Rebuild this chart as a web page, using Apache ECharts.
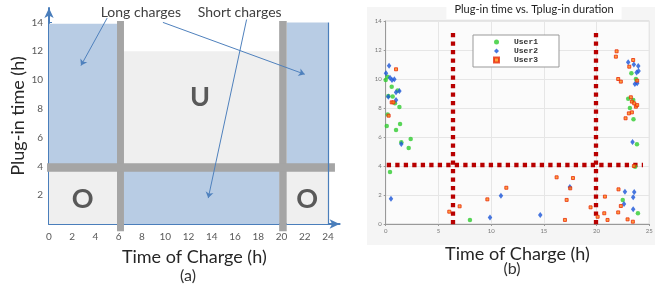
<!DOCTYPE html>
<html><head><meta charset="utf-8">
<script src="https://cdn.jsdelivr.net/npm/echarts@6/dist/echarts.min.js"></script>
<style>html,body{margin:0;padding:0;background:#fff}#c{width:657px;height:287px}</style>
</head><body><div id="c"></div>
<script>
// ---------- Panel (a): zones [x0, x1, y0, y1] ----------
const zonesOver = [[0, 5.85, 0, 4], [20.45, 24, 0, 4]];          // "O"
const zonesUnder = [[6.45, 19.8, 4, 12]];                          // "U"
const zonesLong = [[0, 5.85, 4, 13.9], [20.45, 24, 4, 14]];        // long charges
const zonesShort = [[6.45, 19.8, 0, 4]];                           // short charges
const dividersV = [[5.85, 6.45, -0.5, 14.1], [19.8, 20.45, -0.5, 14.1]];
const dividersH = [[-0.17, 24.6, 3.63, 4.22]];
const edgeLine = [[24, 0], [24, 14]];
const arrowsA = [
  [[5.0, 14.3], [2.75, 11.0]],
  [[9.8, 14.0], [22.0, 10.4]],
  [[17.0, 14.2], [13.7, 1.8]]
];
const textsA = ['Long charges', 'Short charges', 'U', 'O', 'O'];
const textPosA = [[7.9, 14.72], [16.4, 14.72], [13.0, 8.8], [2.9, 1.74], [22.2, 1.74]];

// ---------- Panel (b) data ----------
const user1 = [[0,9.93],[0.16,10.16],[0.57,9.47],[0.25,8.83],[0.66,8.8],[1.14,9.2],[0.88,8.32],[1.3,8.07],
  [0.19,7.56],[0.1,6.76],[1.36,6.9],[0.98,6.48],[1.48,5.63],[2.37,5.86],[2.18,5.24],[0.41,3.59],[7.99,0.28],
  [23.3,10.4],[23.73,10.0],[23.0,8.64],[23.48,8.55],[23.16,8.0],[23.5,7.22],[23.83,5.5],[23.65,3.95],
  [22.48,1.66],[23.92,0.74]];
const user2 = [[0.03,10.39],[0.32,10.92],[0.41,10.09],[0.6,9.93],[0.82,9.98],[0.25,8.78],[0.98,9.08],[1.3,9.17],
  [0.98,8.55],[1.48,5.52],[0.5,1.75],[9.89,0.44],[10.93,1.95],[14.66,0.62],[17.47,2.55],
  [23.0,11.15],[23.54,11.0],[23.95,10.9],[23.98,10.55],[23.8,10.44],[23.63,9.66],[23.85,9.7],[23.41,5.66],
  [22.69,2.23],[23.57,2.21],[22.6,1.38],[23.47,1.84],[23.47,1.01]];
const user3 = [[0.98,10.67],[0.57,8.39],[0.73,8.39],[0.28,7.47],[6.03,0.85],[7.01,1.22],[9.64,1.7],[11.44,2.5],
  [16.21,3.22],[17.16,1.66],[17.0,0.28],[17.5,2.46],[17.76,3.17],[19.43,1.15],[20.1,0.5],[20.79,1.89],
  [20.73,0.74],[21.04,0.28],[22.05,0.8],[22.08,2.39],[22.3,1.24],[22.94,0.32],[23.44,0.16],
  [21.9,11.91],[21.83,11.54],[22.05,10.0],[22.3,9.82],[23.47,11.31],[23.1,10.85],[23.85,9.89],
  [23.25,8.74],[23.35,8.44],[23.57,8.32],[23.73,8.09],[23.85,8.2],[23.06,7.63],[23.35,7.7],[22.75,7.29],[23.54,4.0]];
const thresholdV1 = [[6.4, -0.6], [6.4, 13.45]];
const thresholdV2 = [[19.9, -0.6], [19.9, 13.45]];
const thresholdH = [[0.1, 4.07], [24.4, 4.07]];
const userNames = ['User1', 'User2', 'User3'];

// ---------- build ----------
const kindColor = ['#EFEFEF', '#EFEFEF', '#B8CCE4', '#B8CCE4', '#A5A5A5'];
const zoneData = [];
zonesOver.forEach(z => zoneData.push(z.concat(0)));
zonesUnder.forEach(z => zoneData.push(z.concat(1)));
zonesLong.forEach(z => zoneData.push(z.concat(2)));
zonesShort.forEach(z => zoneData.push(z.concat(3)));
dividersV.concat(dividersH).forEach(z => zoneData.push(z.concat(4)));

const chart = echarts.init(document.getElementById('c'), null, {renderer: 'canvas'});
const FA = 'Lato, "Open Sans", sans-serif';
const redDots = {color: '#B80000', width: 4.3, type: [4.3, 4.2], cap: 'butt', opacity: 1};

chart.setOption({
  animation: false,
  backgroundColor: '#fff',
  title: [
    {text: '(a)', left: 188, top: 276, textAlign: 'center', textVerticalAlign: 'middle', padding: 0,
     textStyle: {fontFamily: FA, fontSize: 16, fontWeight: 'normal', color: '#333'}},
    {text: '(b)', left: 512, top: 269, textAlign: 'center', textVerticalAlign: 'middle', padding: 0,
     textStyle: {fontFamily: FA, fontSize: 16, fontWeight: 'normal', color: '#333'}},
    {text: 'Plug-in time vs. Tplug-in duration', left: 526, top: 0, textAlign: 'center',
     backgroundColor: '#fff', padding: [4, 8, 4, 8],
     textStyle: {fontFamily: FA, fontSize: 11, fontWeight: 'normal', color: '#222'}}
  ],
  graphic: [
    {type: 'rect', z: -10, shape: {x: 367, y: 7, width: 288, height: 238}, style: {fill: '#F5F5F5'}}
  ],
  legend: {
    data: userNames, left: 473, top: 35, orient: 'vertical', itemWidth: 5, itemHeight: 5, itemGap: 1,
    padding: [3, 21, 3, 20], backgroundColor: '#fff', borderColor: '#999', borderWidth: 1, borderRadius: 0,
    textStyle: {fontFamily: '"Liberation Mono", monospace', fontWeight: 'bold', fontSize: 8, color: '#333',
                lineHeight: 8, padding: [0, 0, 0, 10]}
  },
  grid: [
    {left: 49, top: 8, width: 290.6, height: 216, containLabel: false},
    {left: 385.7, top: 21, width: 263.6, height: 203, show: true, backgroundColor: '#FBFBFB', borderColor: '#D0D0D0', borderWidth: 1}
  ],
  xAxis: [
    {gridIndex: 0, type: 'value', min: 0, max: 25, interval: 2,
     axisLine: {lineStyle: {color: '#4A7EBB', width: 2}, symbol: ['none', 'arrow'], symbolSize: [7, 10]},
     axisTick: {inside: true, length: 3, lineStyle: {color: '#4A7EBB'}},
     axisLabel: {showMaxLabel: false, fontFamily: FA, fontSize: 10, color: '#595959', margin: 8},
     splitLine: {show: false},
     name: 'Time of Charge (h)', nameLocation: 'middle', nameGap: 24,
     nameTextStyle: {fontFamily: FA, fontSize: 18, color: '#262626'}},
    {gridIndex: 1, type: 'value', min: 0, max: 25, interval: 5,
     axisLine: {lineStyle: {color: '#999', width: 1}},
     axisTick: {length: 2, lineStyle: {color: '#999'}},
     axisLabel: {fontFamily: FA, fontSize: 6, color: '#777', margin: 4},
     splitLine: {show: true, lineStyle: {color: '#E6E6E6', width: 1}},
     name: 'Time of Charge (h)', nameLocation: 'middle', nameGap: 21,
     nameTextStyle: {fontFamily: FA, fontSize: 18, color: '#262626'}}
  ],
  yAxis: [
    {gridIndex: 0, type: 'value', min: 0, max: 15, interval: 2,
     axisLine: {lineStyle: {color: '#4A7EBB', width: 2}, symbol: ['none', 'arrow'], symbolSize: [7, 10]},
     axisTick: {inside: true, length: 3, lineStyle: {color: '#4A7EBB'}},
     axisLabel: {showMinLabel: false, showMaxLabel: false, fontFamily: FA, fontSize: 10, color: '#595959', margin: 6},
     splitLine: {show: false},
     name: 'Plug-in time (h)', nameLocation: 'middle', nameGap: 20, nameRotate: 90,
     nameTextStyle: {fontFamily: FA, fontSize: 18, color: '#262626'}},
    {gridIndex: 1, type: 'value', min: 0, max: 14, interval: 2,
     axisLine: {lineStyle: {color: '#999', width: 1}},
     axisTick: {length: 2, lineStyle: {color: '#999'}},
     axisLabel: {fontFamily: FA, fontSize: 6, color: '#777', margin: 4},
     splitLine: {show: true, lineStyle: {color: '#E6E6E6', width: 1}}}
  ],
  series: [
    {type: 'custom', xAxisIndex: 0, yAxisIndex: 0, clip: false, z: 1, silent: true,
     data: zoneData,
     renderItem: function (params, api) {
       const p0 = api.coord([api.value(0), api.value(3)]);
       const p1 = api.coord([api.value(1), api.value(2)]);
       return {type: 'rect', shape: {x: p0[0], y: p0[1], width: p1[0] - p0[0], height: p1[1] - p0[1]},
               style: {fill: kindColor[api.value(4)]}};
     }},
    {type: 'lines', coordinateSystem: 'cartesian2d', xAxisIndex: 0, yAxisIndex: 0, z: 3, silent: true,
     symbol: ['none', 'none'], lineStyle: {color: '#4A7EBB', width: 1.2, opacity: 1},
     data: [{coords: edgeLine}]},
    {type: 'lines', coordinateSystem: 'cartesian2d', xAxisIndex: 0, yAxisIndex: 0, z: 4, silent: true,
     symbol: ['none', 'arrow'], symbolSize: 6, lineStyle: {color: '#4F81BD', width: 1, opacity: 1},
     data: arrowsA.map(a => ({coords: a}))},
    {type: 'custom', xAxisIndex: 0, yAxisIndex: 0, clip: false, z: 5, silent: true,
     data: textPosA.map((p, i) => [p[0], p[1], i]),
     renderItem: function (params, api) {
       const p = api.coord([api.value(0), api.value(1)]);
       const i = api.value(2);
       const big = i >= 2;
       return {type: 'text', x: p[0], y: p[1],
               style: {text: textsA[i], textAlign: 'center', textVerticalAlign: 'middle',
                       font: (big ? 'bold 27px ' : '14px ') + FA, fill: big ? '#595959' : '#404040'}};
     }},
    // panel b threshold lines
    {type: 'lines', coordinateSystem: 'cartesian2d', xAxisIndex: 1, yAxisIndex: 1, z: 3, silent: true,
     symbol: ['none', 'none'], lineStyle: redDots,
     data: [{coords: thresholdV1}, {coords: thresholdV2}, {coords: thresholdH}]},
    {name: 'User1', type: 'scatter', xAxisIndex: 1, yAxisIndex: 1, z: 6, symbol: 'circle', symbolSize: 4.5,
     itemStyle: {color: '#2FCC2F'}, data: user1},
    {name: 'User2', type: 'scatter', xAxisIndex: 1, yAxisIndex: 1, z: 6, symbol: 'diamond', symbolSize: [4.5, 6],
     itemStyle: {color: '#1A55D8'}, data: user2},
    {name: 'User3', type: 'scatter', xAxisIndex: 1, yAxisIndex: 1, z: 6, symbol: 'rect', symbolSize: 3,
     itemStyle: {color: '#FF8A10', borderColor: '#E82A0A', borderWidth: 1}, data: user3}
  ]
});
</script></body></html>
